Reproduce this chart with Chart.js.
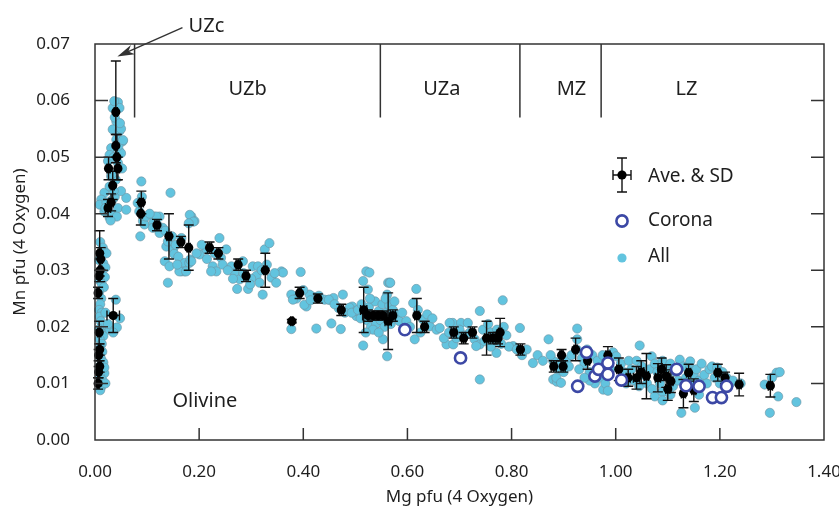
<!DOCTYPE html>
<html>
<head>
<meta charset="utf-8">
<script src="https://cdn.jsdelivr.net/npm/chart.js@4.4.0/dist/chart.umd.min.js"></script>
<style>
html, body { margin: 0; padding: 0; background: #fff; }
</style>
</head>
<body>
<canvas id="olivine" width="839" height="510"></canvas>
<script>
// all analyses [Mg, Mn]
const allPoints = [
  [0.044,0.0597],[0.034,0.0587],[0.047,0.0587],[0.041,0.0563],[0.034,0.0549],[0.047,0.0546],[0.041,0.0531],[0.053,0.0528],
  [0.031,0.0516],[0.047,0.051],[0.028,0.0504],[0.050,0.0507],[0.025,0.0493],[0.044,0.049],[0.031,0.0466],[0.018,0.0437],
  [0.028,0.0448],[0.012,0.0425],[0.009,0.0416],[0.025,0.0419],[0.028,0.0393],[0.037,0.0398],[0.044,0.041],[0.060,0.0428],
  [0.060,0.0407],[0.018,0.0404],[0.034,0.0425],[0.037,0.0599],[0.038,0.057],[0.050,0.055],[0.045,0.052],[0.036,0.050],
  [0.052,0.048],[0.040,0.046],[0.032,0.047],[0.022,0.042],[0.030,0.040],[0.038,0.043],[0.050,0.044],[0.042,0.0395],
  [0.054,0.0530],[0.048,0.0560],[0.036,0.0440],[0.020,0.0410],[0.030,0.0388],
  [0.010,0.0350],[0.015,0.0340],[0.018,0.0333],[0.012,0.0325],[0.008,0.0318],[0.016,0.0312],[0.020,0.0305],[0.011,0.0300],
  [0.014,0.0293],[0.019,0.0288],[0.009,0.0282],[0.013,0.0276],[0.017,0.0270],[0.008,0.0262],[0.012,0.0250],[0.010,0.0240],
  [0.008,0.0230],[0.013,0.0225],[0.009,0.0218],[0.011,0.0210],[0.015,0.0203],[0.008,0.0196],[0.012,0.0190],[0.016,0.0184],
  [0.009,0.0178],[0.013,0.0170],[0.010,0.0163],[0.014,0.0156],[0.008,0.0150],[0.012,0.0143],[0.016,0.0137],[0.009,0.0130],
  [0.013,0.0124],[0.018,0.0118],[0.010,0.0112],[0.014,0.0106],[0.008,0.0100],[0.012,0.0094],[0.010,0.0088],[0.020,0.0100],
  [0.018,0.0128],[0.022,0.0330],[0.020,0.0225],[0.028,0.0195],[0.040,0.0248],[0.042,0.0199],[0.048,0.0215],[0.035,0.0190],
  [0.025,0.0205],
  [0.089,0.0457],[0.082,0.0419],[0.085,0.0404],[0.092,0.0387],[0.087,0.0360],[0.095,0.0381],[0.114,0.0395],[0.124,0.0395],
  [0.112,0.0384],[0.130,0.0375],[0.124,0.0366],[0.145,0.0437],[0.137,0.0342],[0.134,0.0316],[0.143,0.0307],[0.140,0.0278],
  [0.150,0.0337],[0.152,0.0329],[0.166,0.0298],[0.172,0.0313],[0.181,0.0313],[0.185,0.0395],[0.191,0.0387],[0.183,0.0319],
  [0.201,0.0328],[0.172,0.0298],[0.118,0.0395],[0.111,0.0375],[0.140,0.0351],[0.160,0.0324],[0.166,0.0357],[0.182,0.0398],
  [0.189,0.0386],[0.180,0.0383],[0.162,0.0298],[0.175,0.0298],[0.185,0.0316],[0.214,0.0337],[0.239,0.0357],[0.252,0.0337],
  [0.242,0.0322],[0.226,0.0307],[0.233,0.0298],[0.223,0.0298],[0.262,0.0307],[0.268,0.0295],[0.284,0.0316],[0.278,0.0284],
  [0.273,0.0267],[0.294,0.0267],[0.303,0.0307],[0.313,0.0307],[0.310,0.0290],[0.316,0.0278],[0.326,0.0337],[0.335,0.0348],
  [0.339,0.0287],[0.348,0.0278],[0.358,0.0298],[0.322,0.0257],[0.377,0.0257],[0.387,0.0250],[0.395,0.0297],[0.406,0.0236],
  [0.419,0.0253],[0.441,0.0248],[0.450,0.0248],[0.476,0.0257],[0.494,0.0236],[0.521,0.0298],[0.524,0.0266],[0.563,0.0278],
  [0.561,0.0257],[0.468,0.0233],[0.502,0.0219],[0.361,0.0296],[0.515,0.0281],[0.566,0.0278],[0.515,0.0167],[0.561,0.0148],
  [0.425,0.0197],[0.377,0.0196],[0.454,0.0206],[0.472,0.0196],[0.458,0.0251],[0.412,0.0257],[0.402,0.0239],[0.380,0.0248],
  [0.414,0.0247],[0.449,0.0248],[0.489,0.0234],[0.501,0.0228],[0.090,0.0430],[0.098,0.0395],[0.105,0.0400],[0.120,0.0380],
  [0.135,0.0370],[0.148,0.0360],[0.155,0.0345],[0.158,0.0310],[0.195,0.0330],[0.205,0.0345],[0.215,0.0320],[0.230,0.0330],
  [0.245,0.0310],[0.255,0.0300],[0.265,0.0285],[0.285,0.0295],[0.300,0.0285],[0.320,0.0300],[0.330,0.0310],[0.345,0.0295],
  [0.298,0.0275],[0.400,0.0265],[0.430,0.0255],[0.460,0.0240],[0.480,0.0225],[0.493,0.0225],
  [0.505,0.0230],[0.512,0.0240],[0.518,0.0225],[0.522,0.0212],[0.526,0.0235],[0.530,0.0200],[0.534,0.0220],[0.538,0.0245],
  [0.540,0.0205],[0.545,0.0228],[0.548,0.0212],[0.552,0.0240],[0.556,0.0200],[0.560,0.0225],[0.565,0.0238],[0.568,0.0205],
  [0.572,0.0230],[0.576,0.0215],[0.580,0.0222],[0.585,0.0210],[0.527,0.0296],[0.567,0.0278],[0.534,0.0195],[0.553,0.0178],
  [0.520,0.0190],[0.545,0.0190],[0.510,0.0215],[0.528,0.0250],[0.558,0.0250],[0.575,0.0245],[0.590,0.0225],[0.598,0.0210],
  [0.617,0.0267],[0.611,0.0242],[0.630,0.0213],[0.643,0.0201],[0.656,0.0195],[0.662,0.0198],[0.614,0.0178],[0.625,0.0190],
  [0.638,0.0222],[0.648,0.0215],[0.620,0.0230],[0.605,0.0200],[0.687,0.0207],[0.681,0.0207],[0.703,0.0207],[0.716,0.0207],
  [0.675,0.0169],[0.688,0.0169],[0.694,0.0180],[0.729,0.0178],[0.739,0.0169],[0.732,0.0166],[0.739,0.0228],[0.783,0.0247],
  [0.745,0.0195],[0.755,0.0205],[0.760,0.0190],[0.768,0.0175],[0.772,0.0195],[0.780,0.0170],[0.785,0.0200],[0.790,0.0185],
  [0.771,0.0154],[0.803,0.0166],[0.816,0.0198],[0.829,0.0160],[0.739,0.0107],[0.700,0.0195],[0.710,0.0185],[0.720,0.0190],
  [0.748,0.0175],[0.760,0.0165],[0.795,0.0165],[0.810,0.0160],[0.670,0.0180],[0.680,0.0190],[0.820,0.0150],
  [0.841,0.0136],[0.871,0.0178],[0.926,0.0197],[0.926,0.0178],[0.889,0.0136],[0.880,0.0107],[0.887,0.0103],[0.886,0.0110],
  [0.895,0.0101],[0.880,0.0140],[0.890,0.0125],[0.905,0.0140],[0.910,0.0130],[0.915,0.0150],[0.925,0.0160],[0.935,0.0145],
  [0.940,0.0135],[0.950,0.0120],[0.955,0.0150],[0.960,0.0100],[0.965,0.0140],[0.970,0.0110],[0.976,0.0089],[0.975,0.0150],
  [0.980,0.0100],[0.985,0.0087],[0.990,0.0125],[0.995,0.0155],[0.950,0.0105],[0.940,0.0110],[0.930,0.0125],[0.875,0.0150],
  [0.900,0.0120],[0.945,0.0160],[0.850,0.0150],[0.860,0.0140],
  [1.001,0.0148],[1.010,0.0135],[1.015,0.0120],[1.020,0.0100],[1.025,0.0140],[1.030,0.0125],[1.035,0.0105],[1.046,0.0167],
  [1.040,0.0140],[1.045,0.0095],[1.050,0.0130],[1.055,0.0115],[1.060,0.0100],[1.069,0.0148],[1.065,0.0125],[1.070,0.0090],
  [1.075,0.0077],[1.075,0.0135],[1.080,0.0120],[1.085,0.0100],[1.090,0.0140],[1.090,0.0085],[1.095,0.0125],[1.100,0.0110],
  [1.105,0.0135],[1.110,0.0095],[1.115,0.0120],[1.120,0.0105],[1.123,0.0142],[1.126,0.0048],[1.130,0.0130],[1.135,0.0110],
  [1.143,0.0128],[1.143,0.0139],[1.145,0.0100],[1.150,0.0115],[1.152,0.0057],[1.155,0.0125],[1.160,0.0105],[1.165,0.0135],
  [1.170,0.0115],[1.175,0.0100],[1.180,0.0125],[1.185,0.0130],[1.190,0.0110],[1.195,0.0128],[1.200,0.0100],[1.205,0.0120],
  [1.213,0.0110],[1.220,0.0100],[1.225,0.0105],[1.240,0.0100],[1.286,0.0098],[1.296,0.0048],[1.309,0.0119],[1.312,0.0077],
  [1.300,0.0110],[1.315,0.0120],[1.347,0.0067],[1.105,0.0080],[1.160,0.0080],[1.090,0.0070]
];

// corona olivine
const coronaMg = [0.595, 0.702, 0.927, 0.944, 0.960, 0.967, 0.985, 0.985, 1.011, 1.117, 1.135, 1.160, 1.186, 1.203, 1.213];
const coronaMn = [0.0195, 0.0145, 0.0095, 0.0155, 0.0113, 0.0125, 0.0136, 0.0116, 0.0106, 0.0125, 0.0096, 0.0095, 0.0075, 0.0075, 0.0095];

// averages and standard deviations
const aveMg = [0.040,0.040,0.042,0.044,0.026,0.034,0.031,0.025,0.089,0.088,0.119,0.142,0.165,0.180,0.220,0.237,0.275,0.290,0.327,
  0.378,0.393,0.428,0.473,0.516,0.524,0.534,0.544,0.553,0.563,0.572,0.618,0.633,0.689,0.708,0.725,0.752,0.764,0.774,0.778,
  0.817,0.881,0.899,0.896,0.923,0.946,0.985,1.006,1.024,1.040,1.049,1.059,1.081,1.088,1.097,1.100,1.106,1.130,1.140,1.150,
  1.196,1.210,1.237,1.297,0.009,0.011,0.010,0.008,0.006,0.035,0.008,0.009,0.007,0.009,0.007,0.006];
const aveMn = [0.058,0.052,0.050,0.048,0.048,0.045,0.042,0.041,0.042,0.040,0.038,0.036,0.035,0.034,0.034,0.033,0.031,0.029,0.030,
  0.021,0.026,0.025,0.023,0.023,0.022,0.022,0.022,0.022,0.021,0.022,0.022,0.020,0.019,0.018,0.019,0.018,0.018,0.018,0.019,
  0.016,0.013,0.013,0.015,0.016,0.014,0.015,0.0125,0.011,0.011,0.012,0.0113,0.011,0.0125,0.0113,0.009,0.0104,0.0082,0.0119,0.0088,
  0.0119,0.011,0.0098,0.0096,0.033,0.032,0.030,0.029,0.026,0.022,0.019,0.016,0.015,0.013,0.012,0.010];
const aveMgSD = [0.003,0.003,0.003,0.003,0.003,0.003,0.004,0.005,0.004,0.003,0.004,0.004,0.003,0.003,0.004,0.003,0.004,0.004,0.003,
  0.002,0.003,0.003,0.004,0.006,0.010,0.008,0.008,0.008,0.006,0.005,0.004,0.004,0.005,0.004,0.004,0.004,0.005,0.004,0.003,
  0.004,0.005,0.004,0.003,0.003,0.004,0.004,0.004,0.004,0.006,0.005,0.004,0.005,0.006,0.005,0.004,0.004,0.004,0.004,0.004,
  0.004,0.004,0.004,0.004,0.003,0.003,0.003,0.002,0.002,0.012,0.003,0.002,0.002,0.003,0.002,0.002];
const aveMnSD = [0.009,0.002,0.004,0.002,0.002,0.0025,0.0015,0.0015,0.002,0.002,0.001,0.004,0.001,0.004,0.001,0.001,0.001,0.001,0.003,
  0.0003,0.001,0.0008,0.001,0.004,0.001,0.0008,0.0008,0.0008,0.005,0.001,0.003,0.001,0.001,0.001,0.001,0.003,0.001,0.001,0.0025,
  0.001,0.001,0.001,0.001,0.002,0.0015,0.0015,0.002,0.0015,0.002,0.002,0.004,0.0025,0.002,0.002,0.002,0.002,0.0025,0.0015,0.002,
  0.0015,0.001,0.002,0.002,0.004,0.002,0.002,0.001,0.001,0.003,0.002,0.001,0.001,0.001,0.001,0.001];

// stratigraphic zones
const zoneBounds = [0.076, 0.548, 0.816, 0.972];
const zoneNames = ['UZb', 'UZa', 'MZ', 'LZ'];
const zoneLabelMg = [0.293, 0.666, 0.915, 1.136];

const xTicks = [0.2, 0.4, 0.6, 0.8, 1.0, 1.2];
const yTicks = [0.01, 0.02, 0.03, 0.04, 0.05, 0.06];

const FONT = '"Noto Sans", "Open Sans", sans-serif';
const INK = '#1e1e1e';

const extras = {
  id: 'extras',
  beforeDatasetDraw(chart, args) {
    if (args.index !== 1) return;
    const ctx = chart.ctx, xs = chart.scales.x, ys = chart.scales.y;
    const cap = 5;
    ctx.save();
    ctx.strokeStyle = '#111';
    ctx.lineWidth = 1.4;
    aveMg.forEach(function (mg, i) {
      const px = xs.getPixelForValue(mg), py = ys.getPixelForValue(aveMn[i]);
      const x1 = xs.getPixelForValue(mg - aveMgSD[i]), x2 = xs.getPixelForValue(mg + aveMgSD[i]);
      const y1 = ys.getPixelForValue(aveMn[i] - aveMnSD[i]), y2 = ys.getPixelForValue(aveMn[i] + aveMnSD[i]);
      ctx.beginPath();
      ctx.moveTo(px, y1); ctx.lineTo(px, y2);
      ctx.moveTo(px - cap, y1); ctx.lineTo(px + cap, y1);
      ctx.moveTo(px - cap, y2); ctx.lineTo(px + cap, y2);
      ctx.moveTo(x1, py); ctx.lineTo(x2, py);
      ctx.moveTo(x1, py - cap); ctx.lineTo(x1, py + cap);
      ctx.moveTo(x2, py - cap); ctx.lineTo(x2, py + cap);
      ctx.stroke();
    });
    ctx.restore();
  },
  afterDraw(chart) {
    const ctx = chart.ctx, xs = chart.scales.x, ys = chart.scales.y;
    const left = xs.getPixelForValue(0), right = xs.getPixelForValue(1.4);
    const top = ys.getPixelForValue(0.07), bottom = ys.getPixelForValue(0);
    ctx.save();
    ctx.strokeStyle = '#333';
    ctx.lineWidth = 1.5;
    ctx.strokeRect(left, top, right - left, bottom - top);

    // inward ticks
    ctx.beginPath();
    xTicks.forEach(function (v) {
      const p = xs.getPixelForValue(v);
      ctx.moveTo(p, bottom); ctx.lineTo(p, bottom - 12);
    });
    yTicks.forEach(function (v) {
      const p = ys.getPixelForValue(v);
      ctx.moveTo(left, p); ctx.lineTo(left + 13, p);
      ctx.moveTo(right, p); ctx.lineTo(right - 13, p);
    });
    // zone boundaries
    zoneBounds.forEach(function (v) {
      const p = xs.getPixelForValue(v);
      ctx.moveTo(p, top); ctx.lineTo(p, ys.getPixelForValue(0.057));
    });
    ctx.stroke();

    ctx.fillStyle = INK;
    ctx.font = '20px ' + FONT;
    ctx.textAlign = 'center';
    ctx.textBaseline = 'middle';
    zoneNames.forEach(function (n, i) {
      ctx.fillText(n, xs.getPixelForValue(zoneLabelMg[i]), ys.getPixelForValue(0.062));
    });
    ctx.fillText('Olivine', xs.getPixelForValue(0.211), ys.getPixelForValue(0.0068));
    ctx.fillText('UZc', xs.getPixelForValue(0.214), ys.getPixelForValue(0.0732));

    // arrow to UZc
    const tx = xs.getPixelForValue(0.168), ty = ys.getPixelForValue(0.0729);
    const hx = xs.getPixelForValue(0.043), hy = ys.getPixelForValue(0.0678);
    const ang = Math.atan2(hy - ty, hx - tx);
    ctx.beginPath();
    ctx.moveTo(tx, ty); ctx.lineTo(hx - 10 * Math.cos(ang), hy - 10 * Math.sin(ang));
    ctx.strokeStyle = '#333';
    ctx.lineWidth = 1.4;
    ctx.stroke();
    ctx.beginPath();
    ctx.moveTo(hx, hy);
    ctx.lineTo(hx - 17 * Math.cos(ang) + 5 * Math.sin(ang), hy - 17 * Math.sin(ang) - 5 * Math.cos(ang));
    ctx.lineTo(hx - 12 * Math.cos(ang), hy - 12 * Math.sin(ang));
    ctx.lineTo(hx - 17 * Math.cos(ang) - 5 * Math.sin(ang), hy - 17 * Math.sin(ang) + 5 * Math.cos(ang));
    ctx.closePath();
    ctx.fillStyle = '#333';
    ctx.fill();

    // legend
    const lx = 622, tx2 = 648;
    ctx.strokeStyle = '#111';
    ctx.lineWidth = 1.4;
    ctx.beginPath();
    ctx.moveTo(lx, 158); ctx.lineTo(lx, 192);
    ctx.moveTo(lx - 5, 158); ctx.lineTo(lx + 5, 158);
    ctx.moveTo(lx - 5, 192); ctx.lineTo(lx + 5, 192);
    ctx.moveTo(lx - 9, 175); ctx.lineTo(lx + 9, 175);
    ctx.moveTo(lx - 9, 170); ctx.lineTo(lx - 9, 180);
    ctx.moveTo(lx + 9, 170); ctx.lineTo(lx + 9, 180);
    ctx.stroke();
    ctx.beginPath(); ctx.arc(lx, 175, 4.6, 0, Math.PI * 2); ctx.fillStyle = '#000'; ctx.fill();
    ctx.beginPath(); ctx.arc(lx, 221, 5.6, 0, Math.PI * 2);
    ctx.fillStyle = '#fff'; ctx.fill();
    ctx.strokeStyle = '#3c48a5'; ctx.lineWidth = 2.6; ctx.stroke();
    ctx.beginPath(); ctx.arc(lx, 258, 4.6, 0, Math.PI * 2); ctx.fillStyle = '#62c4df'; ctx.fill();
    ctx.fillStyle = INK;
    ctx.font = '19px ' + FONT;
    ctx.textAlign = 'left';
    ctx.fillText('Ave. & SD', tx2, 177);
    ctx.fillText('Corona', tx2, 221);
    ctx.fillText('All', tx2, 257);
    ctx.restore();
  }
};

new Chart(document.getElementById('olivine'), {
  type: 'scatter',
  data: {
    datasets: [{
      label: 'All',
      data: allPoints.map(function (p) { return {x: p[0], y: p[1]}; }),
      backgroundColor: '#62c4df',
      borderColor: 'rgba(110,150,165,0.8)',
      borderWidth: 0.8,
      pointRadius: 4.6,
      order: 3
    }, {
      label: 'Ave. & SD',
      data: aveMg.map(function (mg, i) { return {x: mg, y: aveMn[i]}; }),
      backgroundColor: '#000',
      borderWidth: 0,
      pointRadius: 4.6,
      order: 2
    }, {
      label: 'Corona',
      data: coronaMg.map(function (mg, i) { return {x: mg, y: coronaMn[i]}; }),
      backgroundColor: '#fff',
      borderColor: '#3c48a5',
      borderWidth: 2.6,
      pointRadius: 5.6,
      order: 1
    }]
  },
  options: {
    responsive: false,
    animation: false,
    clip: false,
    layout: { padding: { top: 44, right: 15 } },
    plugins: { legend: { display: false }, tooltip: { enabled: false } },
    scales: {
      x: {
        type: 'linear', min: 0, max: 1.4,
        afterFit: function (s) { s.height = 70; s.paddingLeft = 0; s.paddingRight = 0; },
        grid: { display: false },
        border: { display: false },
        ticks: {
          stepSize: 0.2, autoSkip: false, maxRotation: 0, padding: 14,
          color: INK, font: { family: FONT, size: 17 },
          callback: function (v) { return Number(v).toFixed(2); }
        },
        title: { display: true, text: 'Mg pfu (4 Oxygen)', color: INK, font: { family: FONT, size: 17 }, padding: { top: 0, bottom: 3 } }
      },
      y: {
        type: 'linear', min: 0, max: 0.07,
        afterFit: function (s) { s.width = 95; s.paddingTop = 0; s.paddingBottom = 0; },
        grid: { display: false },
        border: { display: false },
        ticks: {
          stepSize: 0.01, autoSkip: false, padding: 17,
          color: INK, font: { family: FONT, size: 17 },
          callback: function (v) { return Number(v).toFixed(2); }
        },
        title: { display: true, text: 'Mn pfu (4 Oxygen)', color: INK, font: { family: FONT, size: 17 }, padding: { top: 10, bottom: 0 } }
      }
    }
  },
  plugins: [extras]
});
</script>
</body>
</html>
